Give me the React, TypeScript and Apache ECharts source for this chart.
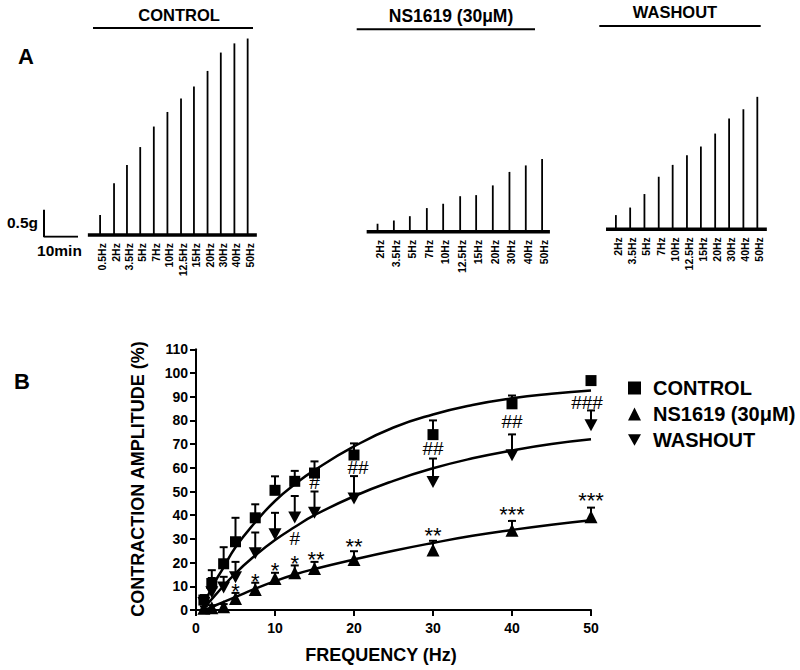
import React, { useEffect, useRef } from "react";
import * as echarts from "echarts";

const FF = "'Liberation Sans', Arial, Helvetica, sans-serif";

// ---------- Panel A: force traces (time in min, force in g) ----------
const controlTimes = [16.5, 20.6, 24.4, 28.3, 32.3, 36.3, 40.3, 44.1, 48.1, 52.0, 56.0, 59.9];
const controlPeaks = [0.40, 0.99, 1.33, 1.66, 2.04, 2.31, 2.56, 2.78, 3.07, 3.41, 3.58, 3.67];
const controlLabels = ["0.5Hz", "2Hz", "3.5Hz", "5Hz", "7Hz", "10Hz", "12.5Hz", "15Hz", "20Hz", "30Hz", "40Hz", "50Hz"];
const controlBase = 0.03;
const controlSpan = [12.9, 62.6];

const nsTimes = [98.1, 102.9, 107.6, 112.6, 117.4, 122.4, 127.1, 132.0, 136.9, 141.7, 146.5];
const nsPeaks = [0.24, 0.30, 0.38, 0.53, 0.61, 0.75, 0.77, 0.95, 1.20, 1.32, 1.44];
const nsLabels = ["2Hz", "3.5Hz", "5Hz", "7Hz", "10Hz", "12.5Hz", "15Hz", "20Hz", "30Hz", "40Hz", "50Hz"];
const nsBase = 0.09;
const nsSpan = [94.9, 148.8];

const washTimes = [168.2, 172.4, 176.6, 180.8, 184.9, 189.1, 193.2, 197.4, 201.5, 205.7, 209.8];
const washPeaks = [0.40, 0.54, 0.79, 1.11, 1.33, 1.51, 1.67, 1.91, 2.19, 2.36, 2.59];
const washLabels = ["2Hz", "3.5Hz", "5Hz", "7Hz", "10Hz", "12.5Hz", "15Hz", "20Hz", "30Hz", "40Hz", "50Hz"];
const washBase = 0.14;
const washSpan = [165.3, 212.6];

const scaleBarG = 0.5;
const scaleBarMin = 10;

// ---------- Panel B: frequency-response ----------
const freqs = [1, 2, 3.5, 5, 7.5, 10, 12.5, 15, 20, 30, 40, 50];
const controlMean = [4.2, 11.2, 19.5, 28.8, 38.9, 50.5, 54.3, 57.8, 65.4, 74, 87, 96.8];
const controlTop = [6.3, 16.8, 26.5, 38.9, 44.6, 56.4, 58.7, 62.7, 70.3, 80, 90.5, 97.5];
const nsMean = [0.7, 1.0, 1.4, 4.8, 8.7, 13.3, 15.7, 17.5, 21.3, 25.3, 33.7, 39.3];
const nsTop = [1.5, 2.0, 2.5, 7.2, 11.5, 15.7, 18.8, 20.3, 24.8, 29.2, 37.6, 43.2];
const washMean = [3, 7.5, 9.5, 13.8, 23.9, 32, 39, 41, 47, 54, 65.3, 78];
const washTop = [5, 13.5, 14, 20.3, 32.7, 41, 48.1, 50, 56.5, 63.9, 74.1, 84.2];

// fitted curves
const controlFitX = [0.7, 2, 3.5, 5, 7.5, 10, 12.5, 15, 20, 25, 30, 35, 40, 45, 50];
const controlFitY = [0, 9.5, 18, 26.5, 37, 46, 53, 59, 69, 77, 82.5, 86.5, 89.3, 91.2, 92.6];
const washFitX = [0.8, 2.5, 5, 7.5, 10, 12.5, 15, 20, 25, 30, 35, 40, 45, 50];
const washFitY = [0, 6.5, 15.5, 23, 29.5, 35, 40, 48, 54.5, 59.8, 64, 67.3, 70, 72];
const nsFitX = [1.2, 2.5, 5, 7.5, 10, 12.5, 15, 20, 25, 30, 35, 40, 45, 50];
const nsFitY = [0, 2, 5.5, 9, 12.2, 15, 17.3, 21.3, 25, 28.3, 31.3, 33.8, 36, 37.9];

const annoX = [5, 7.5, 10, 12.5, 15.2, 20, 30, 40, 50, 12.5, 15, 20.5, 30, 40, 49.5];
const annoY = [9.8, 14.3, 18.9, 21.8, 23.6, 28.8, 33.7, 42.5, 48.4, 30.2, 54, 60.3, 68.1, 79.7, 87.7];
const annoText = ["*", "*", "*", "*", "**", "**", "**", "***", "***", "#", "#", "##", "##", "##", "###"];

const NAME_C = "CONTROL";
const NAME_N = "NS1619 (30\u03bcM)";
const NAME_W = "WASHOUT";
const downTri = "path://M0,0L20,0L10,18Z";

function traceSeries(times: number[], peaks: number[], labels: string[], base: number, span: number[]) {
  return [
    {
      type: "line",
      xAxisIndex: 0,
      yAxisIndex: 0,
      data: [[span[0], base], [span[1], base]],
      symbol: "none",
      lineStyle: { color: "#000", width: 3.5 },
      silent: true,
      z: 2,
    },
    {
      type: "custom",
      xAxisIndex: 0,
      yAxisIndex: 0,
      coordinateSystem: "cartesian2d",
      data: times.map((t, i) => [t, base, peaks[i]]),
      silent: true,
      z: 3,
      renderItem: (params: any, api: any) => {
        const t = api.value(0);
        const b = api.value(1);
        const p = api.value(2);
        const p0 = api.coord([t, b]);
        const p1 = api.coord([t, p]);
        return {
          type: "group",
          children: [
            {
              type: "line",
              shape: { x1: p0[0], y1: p0[1], x2: p1[0], y2: p1[1] },
              style: { stroke: "#000", lineWidth: 1.8 },
            },
            {
              type: "text",
              x: p0[0] + 2,
              y: p0[1] + 8,
              rotation: Math.PI / 2,
              style: {
                text: labels[params.dataIndex],
                align: "right",
                verticalAlign: "middle",
                fontFamily: FF,
                fontWeight: "bold",
                fontSize: 10.5,
                fill: "#000",
              },
            },
          ],
        };
      },
    },
  ];
}

function errorSeries(xs: number[], means: number[], tops: number[]) {
  return {
    type: "custom",
    xAxisIndex: 1,
    yAxisIndex: 1,
    coordinateSystem: "cartesian2d",
    data: xs.map((x, i) => [x, means[i], tops[i]]),
    silent: true,
    z: 2,
    renderItem: (params: any, api: any) => {
      const a = api.coord([api.value(0), api.value(1)]);
      const b = api.coord([api.value(0), api.value(2)]);
      return {
        type: "group",
        children: [
          { type: "line", shape: { x1: a[0], y1: a[1], x2: b[0], y2: b[1] }, style: { stroke: "#000", lineWidth: 2 } },
          { type: "line", shape: { x1: b[0] - 4, y1: b[1], x2: b[0] + 4, y2: b[1] }, style: { stroke: "#000", lineWidth: 2 } },
        ],
      };
    },
  };
}

function fitSeries(xs: number[], ys: number[]) {
  return {
    type: "line",
    xAxisIndex: 1,
    yAxisIndex: 1,
    data: xs.map((x, i) => [x, ys[i]]),
    smooth: true,
    symbol: "none",
    lineStyle: { color: "#000", width: 2.5 },
    silent: true,
    z: 3,
  };
}

export default function App() {
  const ref = useRef<HTMLDivElement>(null);
  useEffect(() => {
    document.body.style.margin = "0";
    if (!ref.current) return;
    const chart = echarts.init(ref.current, undefined, { renderer: "svg" });
    const axisCommon = {
      axisLine: { show: true, lineStyle: { color: "#000", width: 2 } },
      axisTick: { show: true, inside: false, length: 6, lineStyle: { color: "#000", width: 2 } },
      splitLine: { show: false },
    };
    const markerStyle = { color: "#000", opacity: 1 };
    const option: any = {
      animation: false,
      backgroundColor: "#fff",
      grid: [
        { left: 44, top: 20.7, width: 734.4, height: 216, outerBoundsMode: "none", containLabel: false },
        { left: 196, top: 349.3, width: 395, height: 260.7, outerBoundsMode: "none", containLabel: false },
      ],
      xAxis: [
        { gridIndex: 0, type: "value", min: 0, max: 216, show: false },
        {
          gridIndex: 1,
          type: "value",
          min: 0,
          max: 50,
          interval: 10,
          ...axisCommon,
          axisLabel: { color: "#000", fontFamily: FF, fontWeight: "bold", fontSize: 14, margin: 11 },
        },
      ],
      yAxis: [
        { gridIndex: 0, type: "value", min: 0, max: 4, show: false },
        {
          gridIndex: 1,
          type: "value",
          min: 0,
          max: 110,
          interval: 10,
          ...axisCommon,
          axisLabel: { color: "#000", fontFamily: FF, fontWeight: "bold", fontSize: 14, margin: 8 },
        },
      ],
      legend: {
        orient: "vertical",
        left: 623,
        top: 373,
        itemWidth: 13,
        itemHeight: 13,
        itemGap: 6,
        selectedMode: false,
        itemStyle: { opacity: 1, color: "#000" },
        data: [NAME_C, NAME_N, NAME_W],
        textStyle: { color: "#000", fontFamily: FF, fontWeight: "bold", fontSize: 20, lineHeight: 20, padding: [0, 0, 0, 7] },
      },
      graphic: [
        { type: "text", x: 26, y: 56, style: { text: "A", fontFamily: FF, fontWeight: "bold", fontSize: 22, fill: "#000", align: "center", verticalAlign: "middle" } },
        { type: "text", x: 22, y: 381, style: { text: "B", fontFamily: FF, fontWeight: "bold", fontSize: 22, fill: "#000", align: "center", verticalAlign: "middle" } },
        { type: "text", x: 179, y: 15, style: { text: "CONTROL", fontFamily: FF, fontWeight: "bold", fontSize: 16.5, fill: "#000", align: "center", verticalAlign: "middle" } },
        { type: "line", shape: { x1: 93, y1: 28, x2: 253, y2: 28 }, style: { stroke: "#000", lineWidth: 2 } },
        { type: "text", x: 451, y: 15.5, style: { text: "NS1619 (30\u03bcM)", fontFamily: FF, fontWeight: "bold", fontSize: 17.5, fill: "#000", align: "center", verticalAlign: "middle" } },
        { type: "line", shape: { x1: 356.7, y1: 29.3, x2: 535, y2: 29.3 }, style: { stroke: "#000", lineWidth: 2 } },
        { type: "text", x: 675, y: 12, style: { text: "WASHOUT", fontFamily: FF, fontWeight: "bold", fontSize: 16.5, fill: "#000", align: "center", verticalAlign: "middle" } },
        { type: "line", shape: { x1: 599.3, y1: 26, x2: 760.7, y2: 26 }, style: { stroke: "#000", lineWidth: 2 } },
        { type: "text", x: 38, y: 222, style: { text: "0.5g", fontFamily: FF, fontWeight: "bold", fontSize: 15.5, fill: "#000", align: "right", verticalAlign: "middle" } },
        { type: "text", x: 59.5, y: 250, style: { text: "10min", fontFamily: FF, fontWeight: "bold", fontSize: 15.5, fill: "#000", align: "center", verticalAlign: "middle" } },
        { type: "text", x: 138, y: 479, rotation: Math.PI / 2, style: { text: "CONTRACTION AMPLITUDE (%)", fontFamily: FF, fontWeight: "bold", fontSize: 18, fill: "#000", align: "center", verticalAlign: "middle" } },
        { type: "text", x: 381, y: 655, style: { text: "FREQUENCY (Hz)", fontFamily: FF, fontWeight: "bold", fontSize: 18, fill: "#000", align: "center", verticalAlign: "middle" } },
      ],
      series: [
        ...traceSeries(controlTimes, controlPeaks, controlLabels, controlBase, controlSpan),
        ...traceSeries(nsTimes, nsPeaks, nsLabels, nsBase, nsSpan),
        ...traceSeries(washTimes, washPeaks, washLabels, washBase, washSpan),
        {
          type: "line",
          xAxisIndex: 0,
          yAxisIndex: 0,
          data: [[0, scaleBarG], [0, 0], [scaleBarMin, 0]],
          symbol: "none",
          lineStyle: { color: "#000", width: 2 },
          silent: true,
        },
        errorSeries(freqs, controlMean, controlTop),
        errorSeries(freqs, nsMean, nsTop),
        errorSeries(freqs, washMean, washTop),
        fitSeries(controlFitX, controlFitY),
        fitSeries(washFitX, washFitY),
        fitSeries(nsFitX, nsFitY),
        {
          name: NAME_C,
          type: "scatter",
          xAxisIndex: 1,
          yAxisIndex: 1,
          symbol: "rect",
          symbolSize: 11,
          itemStyle: markerStyle,
          data: freqs.map((x, i) => [x, controlMean[i]]),
          z: 4,
        },
        {
          name: NAME_N,
          type: "scatter",
          xAxisIndex: 1,
          yAxisIndex: 1,
          symbol: "triangle",
          symbolSize: 13,
          itemStyle: markerStyle,
          data: freqs.map((x, i) => [x, nsMean[i]]),
          z: 4,
        },
        {
          name: NAME_W,
          type: "scatter",
          xAxisIndex: 1,
          yAxisIndex: 1,
          symbol: downTri,
          symbolSize: [13, 12],
          itemStyle: markerStyle,
          data: freqs.map((x, i) => [x, washMean[i]]),
          z: 4,
        },
        {
          type: "custom",
          xAxisIndex: 1,
          yAxisIndex: 1,
          coordinateSystem: "cartesian2d",
          data: annoX.map((x, i) => [x, annoY[i]]),
          silent: true,
          z: 5,
          renderItem: (params: any, api: any) => {
            const p = api.coord([api.value(0), api.value(1)]);
            const txt = annoText[params.dataIndex];
            const star = txt.indexOf("*") >= 0;
            return {
              type: "text",
              x: p[0],
              y: p[1] + (star ? 5 : 0),
              style: {
                text: txt,
                fontFamily: FF,
                fontSize: star ? 22 : 19,
                fill: "#000",
                align: "center",
                verticalAlign: "middle",
              },
            };
          },
        },
      ],
    };
    chart.setOption(option);
    return () => chart.dispose();
  }, []);
  return <div ref={ref} style={{ width: 800, height: 670 }} />;
}
